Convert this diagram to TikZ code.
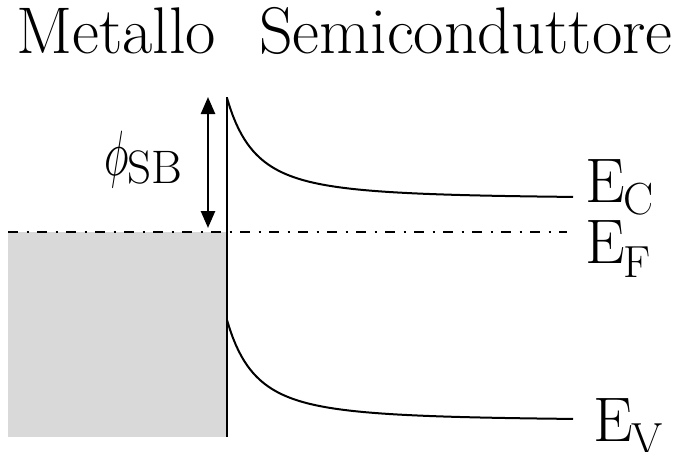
\documentclass[tikz,border=0pt]{standalone}
\usepackage{graphicx}
\usetikzlibrary{arrows.meta}
\definecolor{metalgray}{RGB}{217,217,217}
\begin{document}
\begin{tikzpicture}[x=1pt,y=-1pt,
  title/.style={anchor=base west,inner sep=0pt,font=\fontsize{66}{68}\selectfont},
  lab/.style={anchor=base west,inner sep=0pt,font=\fontsize{63}{64}\selectfont},
  band/.style={line width=2pt},
  iface/.style={line width=2.8pt},
  fermi/.style={line width=2pt,dash pattern=on 10pt off 8.5pt on 2pt off 8.5pt},
  dimarrow/.style={line width=2.5pt,{Triangle[length=17pt,width=14pt]}-{Triangle[length=17pt,width=14pt]}}]
\useasboundingbox (0,0) rectangle (677,451);
\newcommand{\subsz}{\fontsize{45}{45}\selectfont}
% titles
\node[title] (met) at (16,53) {Metallo};
\node[title] (sem) at (259,53) {Semiconduttore};
% metal filled states
\fill[metalgray] (8,232) rectangle (227,437);
% Fermi level
\coordinate (ef0) at (8,231.5);
\coordinate (ef1) at (567,231.5);
\draw[fermi] (ef0) -- (ef1);
% interface
\coordinate (iftop) at (227,97);
\coordinate (ifbot) at (227,437);
\draw[iface] (iftop) -- (ifbot);
% bands
\draw[band] plot[domain=0:346,samples=120] ({227+\x},{199-101/((1+\x/58)^2)});
\draw[band] plot[domain=0:346,samples=120] ({227+\x},{421-101/((1+\x/58)^2)});
% barrier arrow
\coordinate (atop) at (208,97);
\coordinate (abot) at (208,228);
\draw[dimarrow] (atop) -- (abot);
\node[anchor=base west,inner sep=0pt] (phi) at (104,175)
  {\scalebox{4.1}[6.4]{$\phi$}\kern-1pt\raisebox{-8pt}{\fontsize{47}{47}\selectfont SB}};
% labels
\node[lab] (ec) at (585,202) {E\kern-1pt\raisebox{-12pt}{\subsz C}};
\node[lab] (ef) at (585,263) {E\kern-1pt\raisebox{-14pt}{\subsz F}};
\node[lab] (ev) at (593,441) {E\kern-1pt\raisebox{-13pt}{\subsz V}};
\end{tikzpicture}
\end{document}
